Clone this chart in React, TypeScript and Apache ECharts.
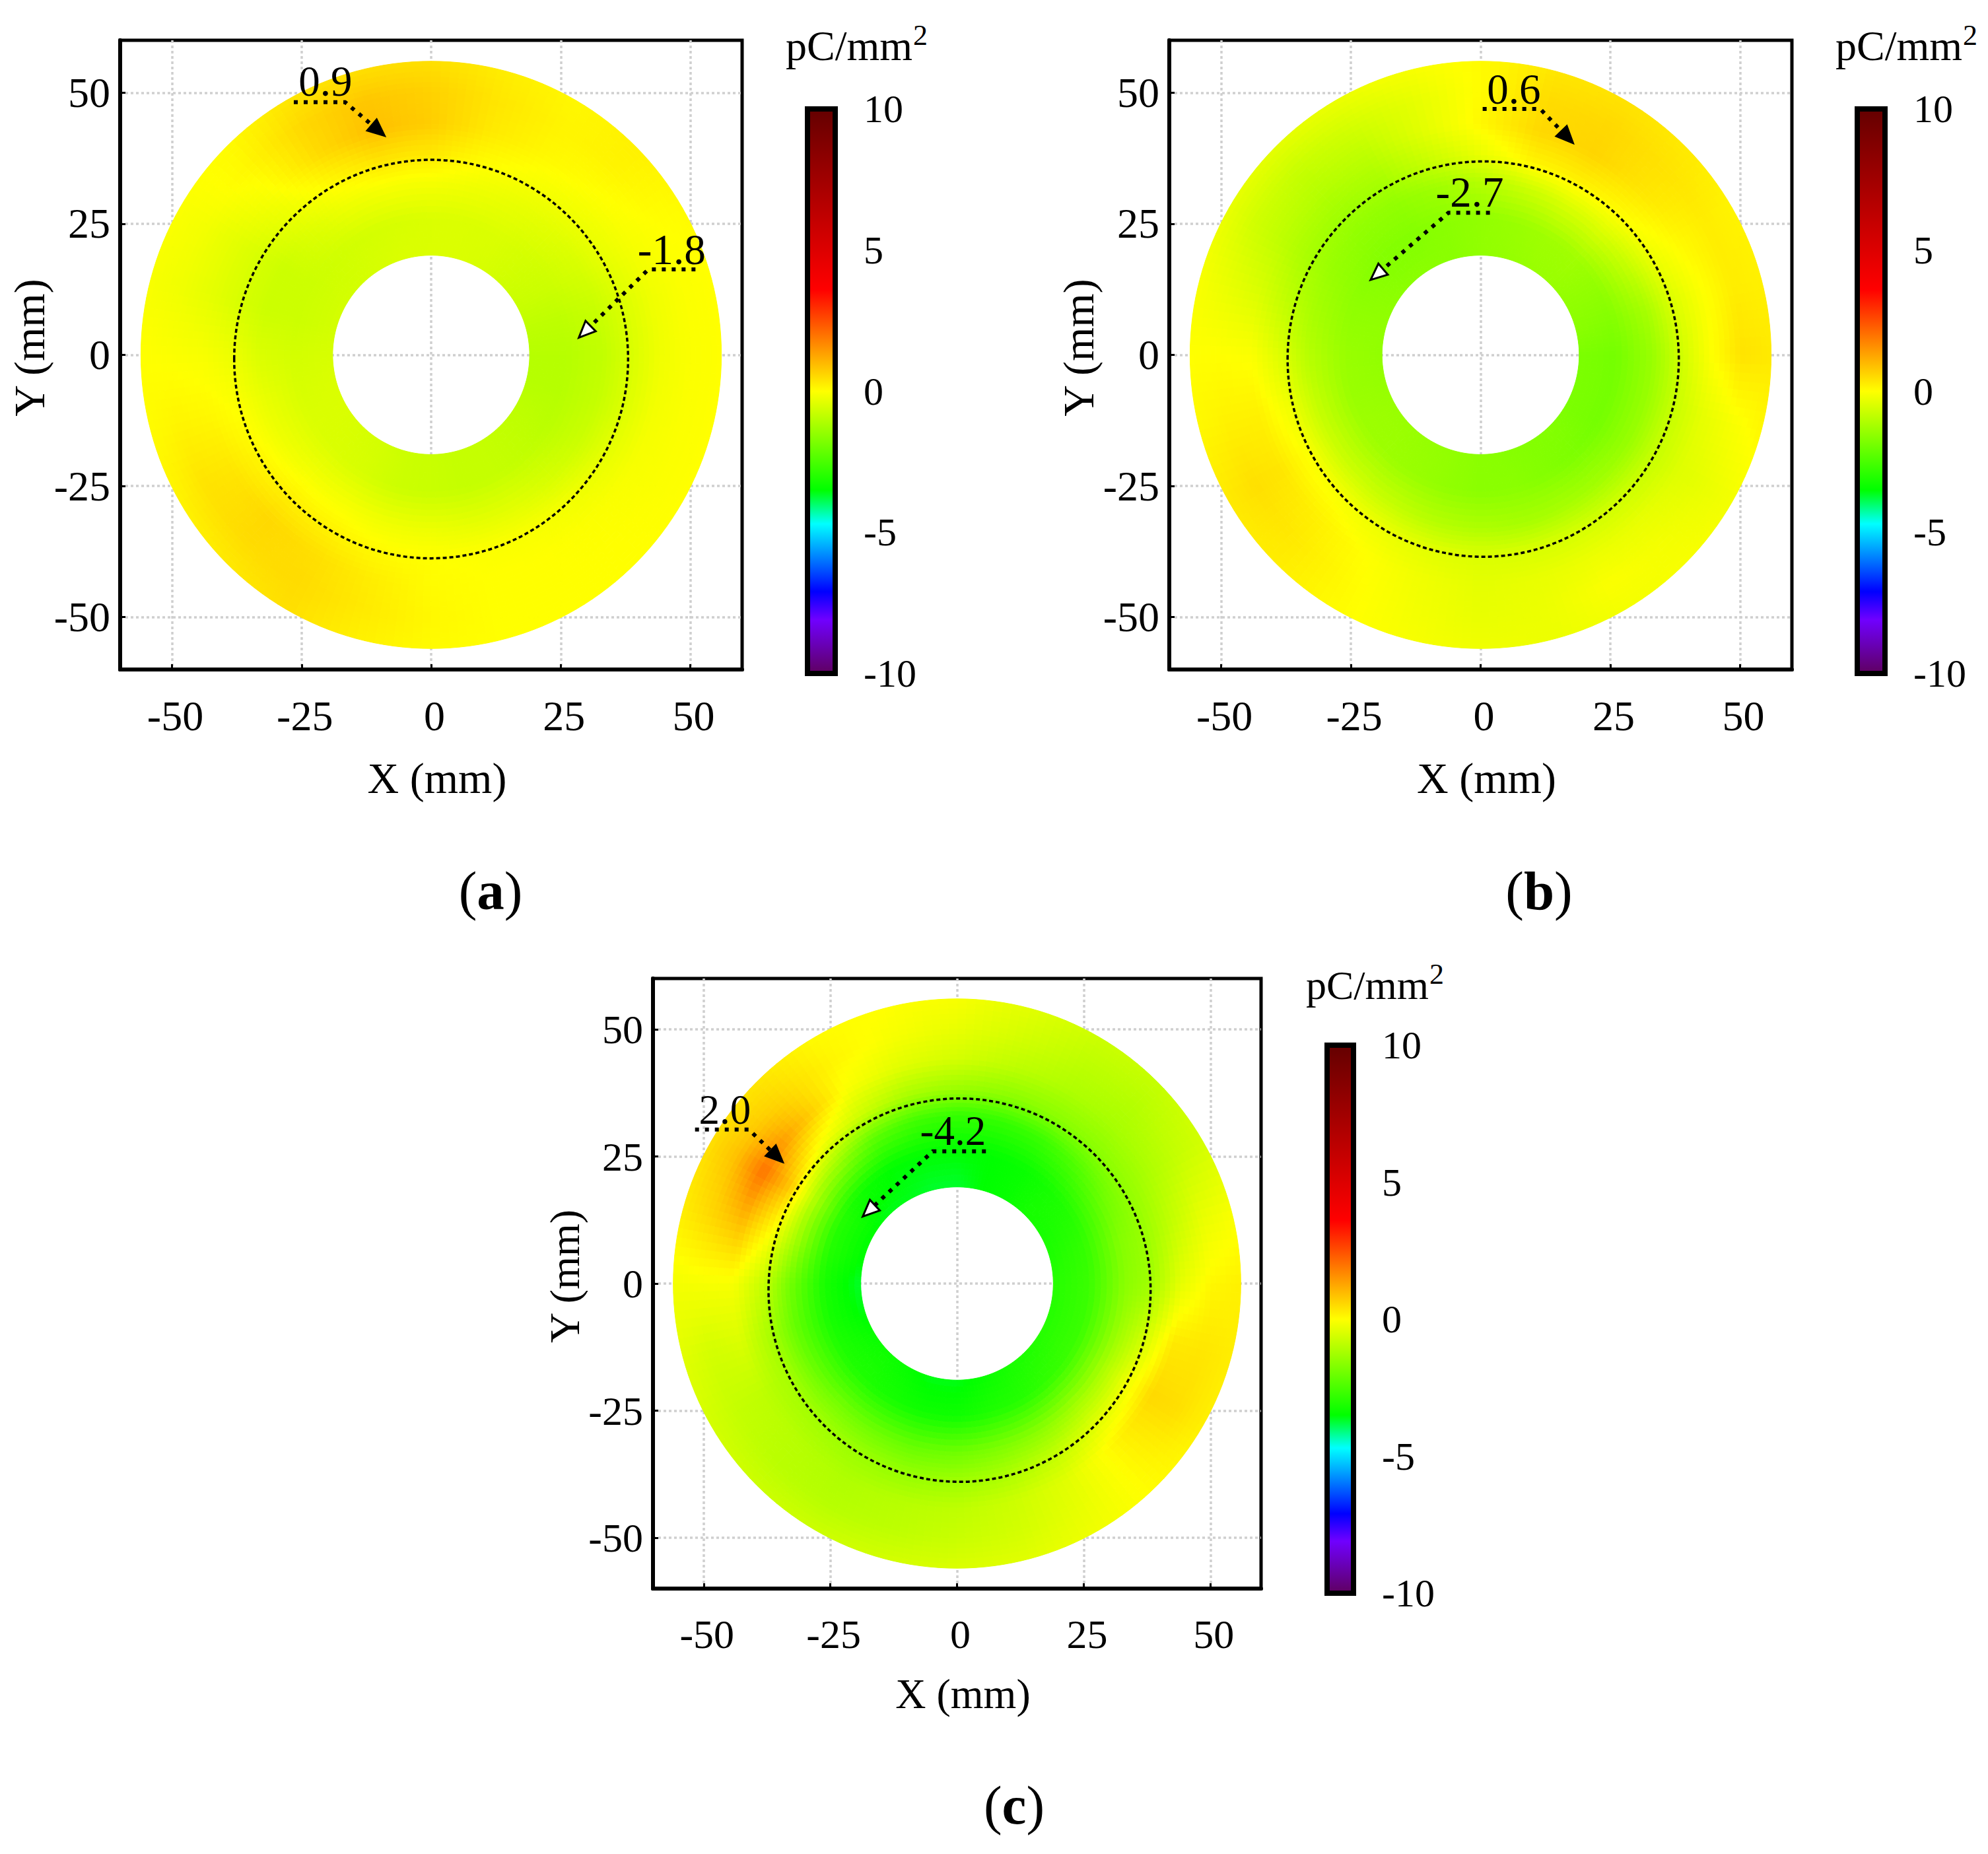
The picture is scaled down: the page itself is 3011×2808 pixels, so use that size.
import React, { useEffect, useRef } from "react";
import * as echarts from "echarts";

const SERIF = "'Liberation Serif', 'Times New Roman', serif";

const ticks = [-50, -25, 0, 25, 50];
const radii = [56, 50, 44, 38, 33, 26, 19];
const angleStepDeg = 15;

const colorStops: [number, string][] = [
  [-10, "#5f0060"],
  [-8.1, "#7000ff"],
  [-7.1, "#0000ff"],
  [-4.7, "#00ffff"],
  [-3.5, "#00ff00"],
  [0, "#ffff00"],
  [1.8, "#ff8000"],
  [3.6, "#ff0000"],
  [10, "#640000"],
];

// Rows follow radii (outer to inner), columns run counter-clockwise from +X in 15 degree steps.
const panelA = [
  [0.0, 0.0, 0.05, 0.2, 0.1, 0.25, 0.45, 0.45, 0.35, 0.05, -0.05, -0.1, 0, 0.05, 0.15, 0.3, 0.45, 0.2, 0.05, 0, 0, 0, 0, 0],
  [-0.05, -0.05, 0, 0.15, 0.15, 0.35, 0.65, 0.8, 0.55, 0.1, -0.15, -0.2, -0.05, 0.15, 0.4, 0.5, 0.5, 0.3, 0.1, 0, 0, 0, -0.05, -0.05],
  [-0.2, -0.2, -0.1, 0, 0.1, 0.3, 0.7, 0.9, 0.5, -0.05, -0.35, -0.35, -0.1, 0.1, 0.35, 0.55, 0.45, 0.25, 0.05, 0, 0, -0.05, -0.1, -0.15],
  [-0.55, -0.5, -0.3, -0.2, -0.1, 0.05, 0.3, 0.35, 0.1, -0.25, -0.55, -0.55, -0.25, -0.05, 0.1, 0.2, 0.15, 0.05, 0, -0.05, -0.1, -0.2, -0.35, -0.5],
  [-0.85, -0.75, -0.55, -0.4, -0.3, -0.2, -0.1, -0.1, -0.2, -0.45, -0.7, -0.7, -0.5, -0.3, -0.2, -0.1, -0.1, -0.2, -0.25, -0.35, -0.4, -0.55, -0.7, -0.8],
  [-1.0, -0.9, -0.7, -0.6, -0.5, -0.5, -0.5, -0.55, -0.6, -0.65, -0.7, -0.7, -0.6, -0.55, -0.5, -0.5, -0.55, -0.7, -0.75, -0.8, -0.8, -0.85, -0.95, -1.0],
  [-1.0, -0.9, -0.75, -0.65, -0.55, -0.5, -0.5, -0.5, -0.55, -0.6, -0.6, -0.6, -0.55, -0.5, -0.5, -0.55, -0.6, -0.7, -0.75, -0.8, -0.8, -0.85, -0.9, -1.0],
];

const panelB = [
  [0.3, 0.2, 0.15, 0.3, 0.4, 0.35, 0.05, -0.1, -0.25, -0.35, -0.3, -0.1, 0, 0.1, 0.3, 0.25, 0.05, -0.1, -0.2, -0.25, -0.15, -0.1, -0.15, 0.1],
  [0.4, 0.25, 0.25, 0.4, 0.55, 0.5, 0.05, -0.35, -0.6, -0.75, -0.65, -0.3, 0, 0.2, 0.45, 0.3, 0.05, -0.15, -0.3, -0.25, -0.05, -0.15, -0.3, -0.1],
  [-0.05, -0.05, 0.1, 0.35, 0.6, 0.55, 0.1, -0.4, -0.9, -1.0, -0.9, -0.5, -0.05, 0.2, 0.35, 0.2, 0, -0.2, -0.35, -0.3, -0.25, -0.3, -0.45, -0.35],
  [-0.7, -0.5, -0.2, 0.05, 0.2, 0.15, -0.3, -0.75, -1.2, -1.3, -1.2, -0.9, -0.5, -0.2, -0.05, -0.1, -0.25, -0.4, -0.5, -0.55, -0.6, -0.7, -0.8, -0.8],
  [-1.4, -1.2, -0.8, -0.5, -0.5, -0.7, -1.0, -1.3, -1.5, -1.5, -1.4, -1.2, -1.0, -0.8, -0.7, -0.7, -0.8, -1.0, -1.1, -1.2, -1.2, -1.3, -1.4, -1.4],
  [-1.9, -1.7, -1.5, -1.3, -1.3, -1.4, -1.5, -1.6, -1.7, -1.7, -1.6, -1.5, -1.4, -1.4, -1.35, -1.35, -1.4, -1.5, -1.6, -1.6, -1.7, -1.8, -1.9, -1.9],
  [-1.8, -1.6, -1.5, -1.4, -1.4, -1.45, -1.5, -1.6, -1.6, -1.6, -1.55, -1.5, -1.5, -1.45, -1.4, -1.4, -1.45, -1.5, -1.6, -1.65, -1.7, -1.7, -1.8, -1.8],
];

const panelC = [
  [0.2, -0.1, -0.6, -0.8, -0.7, -0.4, -0.1, 0, 0.05, 0.35, 0.45, 0.25, -0.15, -0.4, -0.6, -0.7, -0.7, -0.6, -0.5, -0.4, -0.2, 0.05, 0.2, 0.25],
  [0.1, -0.3, -0.8, -1.0, -0.9, -0.6, -0.3, -0.1, 0.15, 0.6, 0.9, 0.55, -0.1, -0.6, -0.8, -0.95, -1.0, -0.9, -0.75, -0.6, -0.3, 0.1, 0.45, 0.35],
  [-0.35, -0.8, -1.1, -1.2, -1.1, -0.9, -0.6, -0.4, -0.05, 1.0, 2.0, 0.9, -0.1, -0.5, -0.9, -1.0, -1.1, -1.0, -0.9, -0.7, -0.4, 0.15, 0.55, 0.3],
  [-1.3, -1.4, -1.5, -1.6, -1.6, -1.6, -1.4, -1.2, -0.7, -0.1, 0.8, 0, -0.8, -1.2, -1.2, -1.3, -1.4, -1.5, -1.4, -1.2, -0.9, -0.5, -0.3, -0.7],
  [-1.6, -1.7, -2.0, -2.4, -2.7, -2.8, -2.8, -2.6, -2.2, -1.4, -0.9, -1.2, -1.9, -2.1, -2.0, -1.9, -2.0, -2.1, -2.0, -1.8, -1.6, -1.3, -1.2, -1.4],
  [-2.7, -2.8, -3.0, -3.2, -3.4, -3.5, -3.5, -3.5, -3.5, -3.3, -3.0, -3.0, -3.2, -3.2, -3.1, -3.1, -3.2, -3.3, -3.3, -3.1, -3.0, -2.8, -2.7, -2.7],
  [-3.0, -3.1, -3.2, -3.2, -3.4, -3.5, -3.7, -3.7, -3.6, -3.6, -3.5, -3.5, -3.7, -3.6, -3.4, -3.3, -3.4, -3.6, -3.6, -3.4, -3.2, -3.1, -3.0, -3.0],
];

const circles = [
  { cx: 0, cy: -0.8, r: 38 },
  { cx: 0.5, cy: -0.8, r: 37.7 },
  { cx: 0.5, cy: -1.3, r: 37.7 },
];

const callouts = [
  [
    { label: "0.9", at: [-20.4, 49.1], path: [[-26.5, 48.2], [-16.6, 48.2], [-9.0, 41.8]], hollow: false },
    { label: "-1.8", at: [46.4, 17.0], path: [[51.0, 16.3], [41.9, 16.3], [28.5, 3.3]], hollow: true },
  ],
  [
    { label: "0.6", at: [6.4, 47.6], path: [[0.4, 46.9], [11.5, 46.9], [17.8, 40.4]], hollow: false },
    { label: "-2.7", at: [-2.1, 28.0], path: [[1.8, 27.1], [-6.2, 27.1], [-21.2, 14.3]], hollow: true },
  ],
  [
    { label: "2.0", at: [-45.8, 31.1], path: [[-51.7, 30.3], [-41.1, 30.3], [-34.4, 23.9]], hollow: false },
    { label: "-4.2", at: [-0.8, 27.0], path: [[5.7, 26.0], [-4.8, 26.0], [-18.6, 13.2]], hollow: true },
  ],
];

const layouts = [
  { left: 182, right: 1124, top: 61, bottom: 1014, bar: 1223, barR: 1265, barTop: 165, barBottom: 1020, font: 64, unitFont: 64, supDx: 193, unitX: 1190, unitY: 101, capX: 743, capY: 1349, cap: "a", xGap: 131, yGap: 96 },
  { left: 1771, right: 2714, top: 61, bottom: 1014, bar: 2813, barR: 2855, barTop: 165, barBottom: 1020, font: 64, unitFont: 64, supDx: 193, unitX: 2780, unitY: 101, capX: 2331, capY: 1349, cap: "b", xGap: 131, yGap: 96 },
  { left: 989, right: 1910, top: 1482, bottom: 2406, bar: 2010, barR: 2050, barTop: 1583, barBottom: 2413, font: 62, unitFont: 62, supDx: 187, unitX: 1978, unitY: 1523, capX: 1536, capY: 2734, cap: "c", xGap: 127, yGap: 93 },
];

const panels = [panelA, panelB, panelC];

function colorOf(v: number): string {
  for (let i = 1; i < colorStops.length; i++) {
    if (v <= colorStops[i][0]) {
      const [a, ca] = colorStops[i - 1];
      const [b, cb] = colorStops[i];
      return echarts.color.lerp((v - a) / (b - a), [ca, cb]) as string;
    }
  }
  return colorStops[colorStops.length - 1][1];
}

const RADIAL_STEPS = 6;
const ANGULAR_STEPS = 8;

function fieldRenderer(table: number[][]) {
  const n = table[0].length;
  return (_params: any, api: any) => {
    const ring = api.value(0);
    const sector = api.value(1);
    const o = api.coord([0, 0]);
    const ex = api.coord([1, 0])[0] - o[0];
    const ey = api.coord([0, 1])[1] - o[1];
    const next = (sector + 1) % n;
    const v00 = table[ring][sector];
    const v01 = table[ring][next];
    const v10 = table[ring + 1][sector];
    const v11 = table[ring + 1][next];
    const r0 = radii[ring];
    const r1 = radii[ring + 1];
    const a0 = (sector * angleStepDeg * Math.PI) / 180;
    const da = (angleStepDeg * Math.PI) / 180;
    const at = (u: number, w: number) => {
      const r = r0 + (r1 - r0) * u;
      const a = a0 + da * w;
      return [o[0] + ex * r * Math.cos(a), o[1] + ey * r * Math.sin(a)];
    };
    const children: any[] = [];
    for (let i = 0; i < RADIAL_STEPS; i++) {
      for (let j = 0; j < ANGULAR_STEPS; j++) {
        const u = (i + 0.5) / RADIAL_STEPS;
        const w = (j + 0.5) / ANGULAR_STEPS;
        const v = v00 * (1 - u) * (1 - w) + v01 * (1 - u) * w + v10 * u * (1 - w) + v11 * u * w;
        const c = colorOf(v);
        const u0 = i / RADIAL_STEPS;
        const u1 = (i + 1) / RADIAL_STEPS;
        const w0 = j / ANGULAR_STEPS;
        const w1 = (j + 1) / ANGULAR_STEPS;
        children.push({
          type: "polygon",
          shape: { points: [at(u0, w0), at(u0, w1), at(u1, w1), at(u1, w0)] },
          style: { fill: c, stroke: c, lineWidth: 1 },
          silent: true,
        });
      }
    }
    return { type: "group", children };
  };
}

function buildOption() {
  const grid: any[] = [];
  const xAxis: any[] = [];
  const yAxis: any[] = [];
  const series: any[] = [];
  const graphic: any[] = [];

  layouts.forEach((l, p) => {
    const mapIndex = grid.length;
    grid.push({
      left: l.left,
      top: l.top,
      width: l.right - l.left,
      height: l.bottom - l.top,
      show: true,
      borderColor: "#000",
      borderWidth: 5,
      backgroundColor: "#fff",
      outerBoundsMode: "none",
    });
    const base = {
      type: "value",
      gridIndex: mapIndex,
      min: -60,
      max: 60,
      axisLine: { onZero: false, lineStyle: { color: "#000", width: 6 } },
      axisTick: { inside: true, length: 8, customValues: ticks, lineStyle: { color: "#000", width: 3 } },
      splitLine: { show: true, lineStyle: { color: "#cfcfcf", width: 3.5, type: [4, 4] } },
      nameLocation: "middle",
      nameTextStyle: { fontFamily: SERIF, fontSize: l.font + 2, color: "#000" },
    };
    xAxis.push({
      ...base,
      position: "bottom",
      name: "X (mm)",
      nameGap: l.xGap,
      axisLabel: { customValues: ticks, margin: 38, fontFamily: SERIF, fontSize: l.font, color: "#000", padding: [0, 0, 0, 10] },
      nameTextStyle: { ...base.nameTextStyle, padding: [0, 0, 0, 18] },
    });
    yAxis.push({
      ...base,
      position: "left",
      name: "Y (mm)",
      nameGap: l.yGap,
      axisLabel: { customValues: ticks, margin: 15, fontFamily: SERIF, fontSize: l.font, color: "#000" },
      nameTextStyle: { ...base.nameTextStyle, padding: [0, 0, 0, 22] },
    });

    const table = panels[p];
    const cells: number[][] = [];
    for (let i = 0; i < radii.length - 1; i++) {
      for (let j = 0; j < table[0].length; j++) cells.push([i, j, table[i][j]]);
    }
    series.push({
      type: "custom",
      coordinateSystem: "cartesian2d",
      xAxisIndex: mapIndex,
      yAxisIndex: mapIndex,
      encode: { x: 0, y: 1 },
      silent: true,
      z: 2,
      data: cells,
      renderItem: fieldRenderer(table),
    });

    const circle = circles[p];
    series.push({
      type: "custom",
      coordinateSystem: "cartesian2d",
      xAxisIndex: mapIndex,
      yAxisIndex: mapIndex,
      encode: { x: 0, y: 1 },
      silent: true,
      z: 3,
      data: [[circle.cx, circle.cy, circle.r]],
      renderItem: (_: any, api: any) => {
        const c = api.coord([api.value(0), api.value(1)]);
        const s = api.size([api.value(2), api.value(2)]);
        return {
          type: "ellipse",
          shape: { cx: c[0], cy: c[1], rx: s[0], ry: s[1] },
          style: { fill: "none", stroke: "#000", lineWidth: 3.5, lineDash: [6, 4] },
        };
      },
    });

    const notes = callouts[p];
    series.push({
      type: "custom",
      coordinateSystem: "cartesian2d",
      xAxisIndex: mapIndex,
      yAxisIndex: mapIndex,
      encode: { x: 0, y: 1 },
      silent: true,
      z: 4,
      data: notes.map((n, i) => [n.at[0], n.at[1], i]),
      renderItem: (_: any, api: any) => {
        const n = notes[api.value(2)];
        const pts = n.path.map((q: number[]) => api.coord(q));
        const tip = pts[2];
        const knee = pts[1];
        const dx = tip[0] - knee[0];
        const dy = tip[1] - knee[1];
        const len = Math.hypot(dx, dy);
        const ux = dx / len;
        const uy = dy / len;
        const baseX = tip[0] - ux * 25;
        const baseY = tip[1] - uy * 25;
        const t = api.coord(n.at);
        return {
          type: "group",
          children: [
            {
              type: "polyline",
              shape: { points: [pts[0], knee, [baseX, baseY]] },
              style: { fill: "none", stroke: "#000", lineWidth: 6, lineDash: [6, 9] },
            },
            {
              type: "polygon",
              shape: {
                points: [
                  tip,
                  [baseX - uy * 11, baseY + ux * 11],
                  [baseX + uy * 11, baseY - ux * 11],
                ],
              },
              style: { fill: n.hollow ? "#fff" : "#000", stroke: "#000", lineWidth: 3 },
            },
            {
              type: "text",
              style: {
                text: n.label,
                x: t[0],
                y: t[1] + 8,
                fill: "#000",
                fontFamily: SERIF,
                fontSize: l.font + 1,
                align: "center",
                verticalAlign: "bottom",
              },
            },
          ],
        };
      },
    });

    // colour bar
    const barIndex = grid.length;
    grid.push({
      left: l.bar,
      top: l.barTop,
      width: l.barR - l.bar,
      height: l.barBottom - l.barTop,
      show: false,
      outerBoundsMode: "none",
    });
    xAxis.push({ type: "value", gridIndex: barIndex, min: 0, max: 1, show: false });
    yAxis.push({
      type: "value",
      gridIndex: barIndex,
      position: "right",
      min: -10,
      max: 10,
      interval: 5,
      axisLine: { show: true, lineStyle: { color: "#000", width: 8 } },
      axisTick: { show: true, length: 35, lineStyle: { color: "#000", width: 8 } },
      axisLabel: { margin: 43, fontFamily: SERIF, fontSize: 60, color: "#000" },
      splitLine: { show: false },
    });
    series.push({
      type: "custom",
      coordinateSystem: "cartesian2d",
      xAxisIndex: barIndex,
      yAxisIndex: barIndex,
      encode: { x: 0, y: 1 },
      silent: true,
      z: 2,
      data: [[0, -10, 1, 10]],
      renderItem: (_: any, api: any) => {
        const a = api.coord([api.value(0), api.value(1)]);
        const b = api.coord([api.value(2), api.value(3)]);
        const span = colorStops[colorStops.length - 1][0] - colorStops[0][0];
        const stops = colorStops.map(([v, color]) => ({ offset: 1 - (v - colorStops[0][0]) / span, color }));
        stops.reverse();
        return {
          type: "rect",
          shape: { x: a[0], y: b[1], width: b[0] - a[0], height: a[1] - b[1] },
          style: {
            fill: new echarts.graphic.LinearGradient(0, 0, 0, 1, stops),
            stroke: "#000",
            lineWidth: 8,
          },
        };
      },
    });

    graphic.push(
      {
        type: "text",
        x: l.unitX,
        y: l.unitY,
        z: 10,
        style: { text: "pC/mm", fontFamily: SERIF, fontSize: l.unitFont, fill: "#000", align: "left", verticalAlign: "bottom" },
      },
      {
        type: "text",
        x: l.unitX + l.supDx,
        y: l.unitY - 26,
        z: 10,
        style: { text: "2", fontFamily: SERIF, fontSize: 44, fill: "#000", align: "left", verticalAlign: "bottom" },
      },
      {
        type: "text",
        x: l.capX,
        y: l.capY,
        z: 10,
        style: {
          text: `{p|(}{b|${l.cap}}{p|)}`,
          align: "center",
          verticalAlign: "middle",
          rich: {
            p: { fontFamily: SERIF, fontSize: 83, fill: "#000" },
            b: { fontFamily: SERIF, fontSize: 83, fontWeight: "bold", fill: "#000" },
          },
        },
      }
    );
  });

  return { animation: false, backgroundColor: "#fff", grid, xAxis, yAxis, series, graphic: { elements: graphic } };
}

export default function App() {
  const ref = useRef<HTMLDivElement>(null);
  useEffect(() => {
    document.body.style.margin = "0";
    const chart = echarts.init(ref.current!, undefined, { renderer: "svg" });
    chart.setOption(buildOption() as any);
    return () => chart.dispose();
  }, []);
  return <div ref={ref} style={{ width: 3011, height: 2808 }} />;
}
